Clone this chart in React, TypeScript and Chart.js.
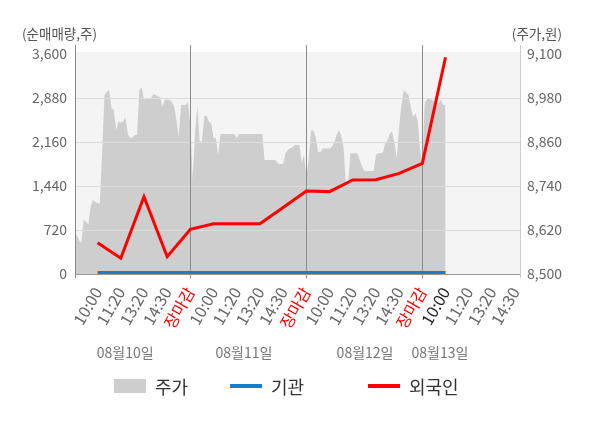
import { useEffect, useRef } from 'react';
import { Chart, registerables } from 'chart.js';

Chart.register(...registerables);

// ── data ──────────────────────────────────────────────
const xTickLabels = [
  '10:00', '11:20', '13:20', '14:30', '장마감',
  '10:00', '11:20', '13:20', '14:30', '장마감',
  '10:00', '11:20', '13:20', '14:30', '장마감',
  '10:00', '11:20', '13:20', '14:30',
];
const dayLabels = ['08월10일', '08월11일', '08월12일', '08월13일'];
const dayLabelSlots = [2.19, 7.31, 12.53, 15.76];
const daySplitSlots = [5, 10, 15];
const currentTickIndex = 15;

// 주가 (원), sampled every 0.1 tick slot
const priceStep = 0.1;
const priceValues = [
  8611, 8606, 8593, 8584, 8647, 8643, 8634, 8684, 8702, 8697,
  8693, 8693, 8838, 8988, 8997, 9002, 8952, 8947, 8893, 8915,
  8913, 8915, 8929, 8884, 8870, 8873, 8879, 8879, 9002, 9009,
  8975, 8979, 8979, 8979, 8990, 8988, 8984, 8982, 8956, 8976,
  8976, 8975, 8970, 8956, 8920, 8875, 8961, 8961, 8961, 8970,
  8902,
  8760, 8884, 8961, 8861, 8861, 8931, 8931, 8915, 8911, 8870,
  8870, 8825, 8882, 8882, 8882, 8882, 8882, 8882, 8882, 8870,
  8882, 8882, 8882, 8882, 8882, 8882, 8882, 8882, 8882, 8882,
  8882, 8811, 8811, 8811, 8811, 8811, 8809, 8800, 8800, 8800,
  8829, 8838, 8843, 8845, 8852, 8852, 8852, 8802, 8825, 8765,
  8811, 8891, 8891, 8875, 8834, 8831, 8842, 8842, 8842, 8842,
  8847, 8858, 8879, 8891, 8879, 8847, 8749, 8749, 8829, 8829,
  8829, 8829, 8811, 8793, 8781, 8781, 8781, 8781, 8781, 8825,
  8829, 8829, 8831, 8856, 8865, 8884, 8888, 8856, 8815, 8902,
  8961, 9002, 8995, 8988, 8956, 8929, 8938, 8920, 8838, 8802,
  8965, 8977, 8977, 8975, 8970, 8961, 8965, 8975, 8961, 8961,
];

// 순매매량 (주)
const tradeSlots = [1, 2, 3, 4, 5, 6, 7, 8, 9, 10, 11, 12, 13, 14, 15, 16];
const foreignValues = [512, 257, 1265, 283, 730, 823, 823, 823, 1088, 1358, 1348, 1538, 1543, 1647, 1811, 3546];
const instValues = [25, 25, 25, 25, 25, 25, 25, 25, 25, 25, 25, 25, 25, 25, 25, 25];

const leftTicks = [0, 720, 1440, 2160, 2880, 3600];
const rightTicks = [8500, 8620, 8740, 8860, 8980, 9100];

const FONT = '"Noto Sans CJK KR", "Noto Sans", sans-serif';

const overlayPlugin = {
  id: 'overlay',
  beforeDraw(chart: any) {
    const { ctx, chartArea: a, scales } = chart;
    const top = scales.y.getPixelForValue(3600) - 2;
    ctx.save();
    ctx.fillStyle = '#f4f4f4';
    ctx.fillRect(a.left, top, a.right - a.left, a.bottom - top);
    ctx.restore();
  },
  afterDatasetDraw(chart: any, args: any) {
    if (args.index !== 0) return;
    const { ctx, chartArea: a, scales } = chart;
    ctx.save();
    ctx.lineWidth = 1;
    ctx.strokeStyle = '#dcdcdc';
    leftTicks.slice(1, -1).forEach((v) => {
      const y = Math.round(scales.y.getPixelForValue(v)) + 0.5;
      ctx.beginPath();
      ctx.moveTo(a.left, y);
      ctx.lineTo(a.right, y);
      ctx.stroke();
    });
    ctx.strokeStyle = '#8c8c8c';
    daySplitSlots.forEach((s) => {
      const x = Math.round(scales.x.getPixelForValue(s)) + 0.5;
      ctx.beginPath();
      ctx.moveTo(x, a.top);
      ctx.lineTo(x, a.bottom + 4);
      ctx.stroke();
    });
    ctx.strokeStyle = '#999';
    ctx.beginPath();
    ctx.moveTo(a.left, Math.round(a.bottom) + 0.5);
    ctx.lineTo(a.right, Math.round(a.bottom) + 0.5);
    ctx.stroke();
    ctx.strokeStyle = '#888';
    ctx.beginPath();
    ctx.moveTo(Math.round(a.left) - 0.5, a.top);
    ctx.lineTo(Math.round(a.left) - 0.5, a.bottom + 4);
    ctx.stroke();
    ctx.strokeStyle = '#cccccc';
    ctx.beginPath();
    ctx.moveTo(Math.round(a.right) + 0.5, a.top);
    ctx.lineTo(Math.round(a.right) + 0.5, a.bottom + 4);
    ctx.stroke();
    ctx.restore();
  },
  afterDraw(chart: any) {
    const { ctx, scales } = chart;
    ctx.save();
    ctx.font = `14px ${FONT}`;
    ctx.fillStyle = '#777';
    ctx.textAlign = 'center';
    ctx.textBaseline = 'middle';
    dayLabels.forEach((t, i) => {
      ctx.fillText(t, scales.x.getPixelForValue(dayLabelSlots[i]), 353);
    });
    ctx.restore();
  },
};

function LegendItem({ left, text, swatch }: { left: number; text: string; swatch: any }) {
  return (
    <>
      <div style={{ position: 'absolute', left, ...swatch }} />
      <div style={{ position: 'absolute', left: left + 41, top: 375, height: 22, lineHeight: '22px', fontSize: 18, color: '#333' }}>{text}</div>
    </>
  );
}

export default function App() {
  const canvasRef = useRef<HTMLCanvasElement>(null);
  const chartRef = useRef<Chart | null>(null);

  useEffect(() => {
    if (!canvasRef.current) return;
    if (chartRef.current) chartRef.current.destroy();

    chartRef.current = new Chart(canvasRef.current, {
      type: 'line',
      data: {
        datasets: [
          {
            label: '주가',
            data: priceValues.map((p, i) => ({ x: i * priceStep, y: p })),
            yAxisID: 'yPrice',
            backgroundColor: '#cecece',
            borderWidth: 0,
            pointRadius: 0,
            fill: 'start',
            order: 3,
          },
          {
            label: '기관',
            data: tradeSlots.map((s, i) => ({ x: s, y: instValues[i] })),
            yAxisID: 'y',
            borderColor: '#137fcc',
            borderWidth: 3,
            pointRadius: 0,
            fill: false,
            order: 2,
          },
          {
            label: '외국인',
            data: tradeSlots.map((s, i) => ({ x: s, y: foreignValues[i] })),
            yAxisID: 'y',
            borderColor: '#ff0000',
            borderWidth: 3,
            pointRadius: 0,
            fill: false,
            order: 1,
          },
        ],
      },
      options: {
        responsive: false,
        animation: false,
        layout: { padding: { top: 45, left: 0, right: 0, bottom: 0 } },
        plugins: { legend: { display: false }, tooltip: { enabled: false } },
        scales: {
          x: {
            type: 'linear',
            min: 0.07,
            max: 19.21,
            afterBuildTicks: (s: any) => { s.ticks = xTickLabels.map((_, i) => ({ value: i + 1 })); },
            afterFit: (s: any) => { s.height = 154; },
            grid: { display: false, drawTicks: false },
            border: { display: false },
            ticks: {
              autoSkip: false,
              minRotation: 60,
              maxRotation: 60,
              padding: 10,
              font: { family: FONT, size: 16 },
              color: (c: any) => xTickLabels[c.index] === '장마감' ? '#ff0000' : c.index === currentTickIndex ? '#222' : '#666',
              callback: (_v: any, i: number) => xTickLabels[i],
            },
          },
          y: {
            position: 'left',
            min: 0,
            max: 3747,
            afterBuildTicks: (s: any) => { s.ticks = leftTicks.map((v) => ({ value: v })); },
            afterFit: (s: any) => { s.width = 76; },
            grid: { display: false, drawTicks: false },
            border: { display: false },
            ticks: {
              padding: 9,
              color: '#666',
              font: { family: FONT, size: 14 },
              callback: (v: any) => Number(v).toLocaleString('en-US'),
            },
          },
          yPrice: {
            position: 'right',
            min: 8500,
            max: 9124.5,
            afterBuildTicks: (s: any) => { s.ticks = rightTicks.map((v) => ({ value: v })); },
            afterFit: (s: any) => { s.width = 80; },
            grid: { display: false, drawTicks: false },
            border: { display: false },
            ticks: {
              padding: 7,
              color: '#666',
              font: { family: FONT, size: 14 },
              callback: (v: any) => Number(v).toLocaleString('en-US'),
            },
          },
        },
      },
      plugins: [overlayPlugin],
    });

    return () => { chartRef.current?.destroy(); chartRef.current = null; };
  }, []);

  return (
    <div style={{ position: 'fixed', left: 0, top: 0, width: 600, height: 428, background: '#fff', fontFamily: FONT }}>
      <canvas ref={canvasRef} width={600} height={428} style={{ width: 600, height: 428 }} />
      <div style={{ position: 'absolute', left: 22, top: 24, lineHeight: '18px', fontSize: 13.5, color: '#555' }}>(순매매량,주)</div>
      <div style={{ position: 'absolute', right: 38, top: 24, lineHeight: '18px', fontSize: 13.5, color: '#555' }}>(주가,원)</div>
      <LegendItem left={114} text="주가" swatch={{ top: 379, width: 32, height: 14, background: '#cecece' }} />
      <LegendItem left={230} text="기관" swatch={{ top: 384, width: 32, height: 4, background: '#137fcc' }} />
      <LegendItem left={368} text="외국인" swatch={{ top: 384, width: 32, height: 4, background: '#ff0000' }} />
    </div>
  );
}
